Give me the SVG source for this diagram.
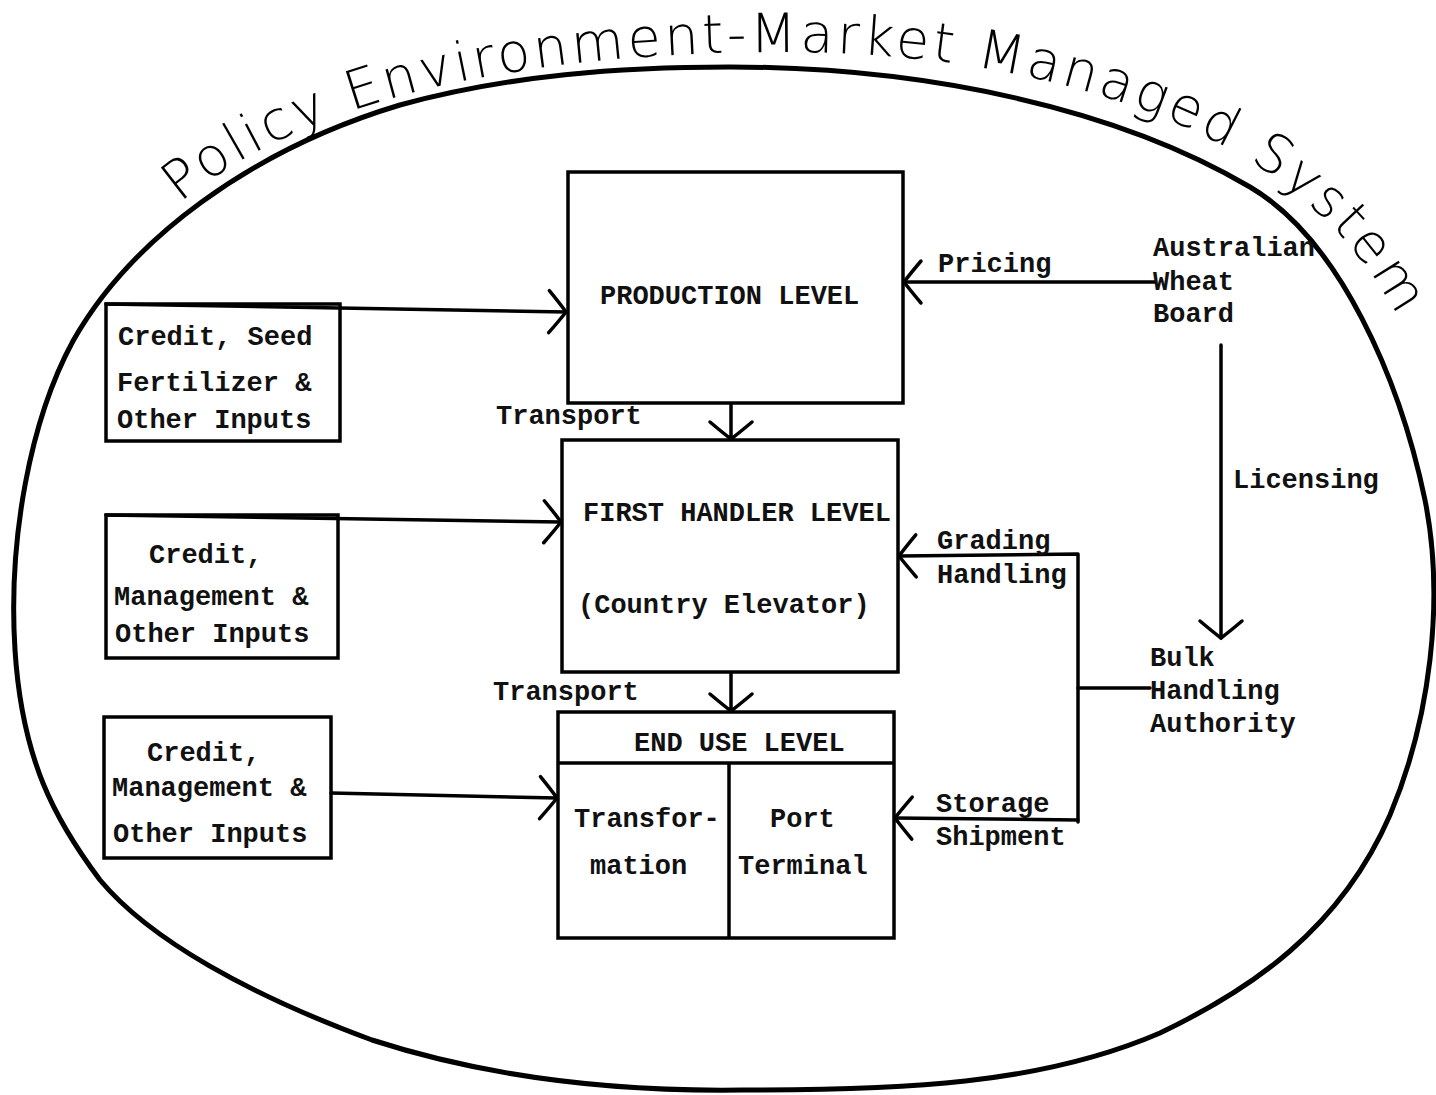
<svg xmlns="http://www.w3.org/2000/svg" width="1436" height="1095" viewBox="0 0 1436 1095">
<style>
.t{font-family:"Liberation Mono","Courier New",monospace;font-size:27px;font-weight:bold;fill:#111}
.box{fill:none;stroke:#000;stroke-width:3.5;stroke-linejoin:miter}
.ln{fill:none;stroke:#000;stroke-width:3.5;stroke-linecap:round;stroke-linejoin:round}
.title{font-family:"DejaVu Sans","Liberation Sans",sans-serif;font-size:54px;font-weight:300;fill:#000}
</style>
<defs>
<marker id="ah" markerUnits="userSpaceOnUse" markerWidth="40" markerHeight="50" viewBox="-25 -25 30 50" refX="0" refY="0" orient="auto">
<path d="M -17,-21 Q -6,-8 0,0 Q -6,8 -17,21" fill="none" stroke="#000" stroke-width="3.5" stroke-linecap="round"/>
</marker>
<path id="arcpath" d="M 180,203 C 305,98 520,54 770,52 C 970,50 1140,92 1255,164 C 1325,210 1375,265 1412,345"/>
</defs>
<rect width="1436" height="1095" fill="#fff"/>

<g id="environment">
<path d="M 730,67 C 930,67 1120,110 1250,187 C 1340,240 1400,380 1425,500 C 1445,600 1430,720 1390,815 C 1340,930 1250,990 1160,1033 C 1040,1085 900,1090 743,1090 C 600,1092 480,1075 372,1040 C 250,995 150,940 100,880 C 55,820 22,760 15,650 C 8,540 30,420 73,341 C 130,240 250,150 400,105 C 510,75 620,67 730,67 Z" fill="none" stroke="#000" stroke-width="5"/>
<text class="title"><textPath href="#arcpath" textLength="1335" lengthAdjust="spacing">Policy Environment-Market Managed System</textPath></text>
</g>

<g id="connectors">
<line class="ln" x1="106" y1="304" x2="566" y2="312" marker-end="url(#ah)"/>
<line class="ln" x1="106" y1="515" x2="561" y2="522" marker-end="url(#ah)"/>
<line class="ln" x1="331" y1="793" x2="557" y2="798" marker-end="url(#ah)"/>
<line class="ln" x1="731" y1="404" x2="731" y2="439" marker-end="url(#ah)"/>
<line class="ln" x1="731" y1="673" x2="731" y2="711" marker-end="url(#ah)"/>
<line class="ln" x1="1155" y1="282" x2="904" y2="282" marker-end="url(#ah)"/>
<line class="ln" x1="1221" y1="345" x2="1221" y2="638" marker-end="url(#ah)"/>
<polyline class="ln" points="1150,688 1078,688"/>
<polyline class="ln" points="1078,822 1078,554 899,556" marker-end="url(#ah)"/>
<polyline class="ln" points="1078,820 895,818" marker-end="url(#ah)"/>
</g>

<g id="inputs1">
<rect class="box" x="106" y="304" width="234" height="137"/>
<text class="t" x="118" y="345">Credit, Seed</text>
<text class="t" x="117" y="391">Fertilizer &amp;</text>
<text class="t" x="117" y="428">Other Inputs</text>
</g>
<g id="inputs2">
<rect class="box" x="106" y="515" width="232" height="143"/>
<text class="t" x="149" y="563">Credit,</text>
<text class="t" x="114" y="605">Management &amp;</text>
<text class="t" x="115" y="642">Other Inputs</text>
</g>
<g id="inputs3">
<rect class="box" x="104" y="717" width="227" height="141"/>
<text class="t" x="147" y="761">Credit,</text>
<text class="t" x="112" y="796">Management &amp;</text>
<text class="t" x="113" y="842">Other Inputs</text>
</g>

<g id="production">
<rect class="box" x="568" y="172" width="335" height="231"/>
<text class="t" x="600" y="304">PRODUCTION LEVEL</text>
</g>
<text class="t" x="496" y="424">Transport</text>

<g id="first-handler">
<rect class="box" x="562" y="440" width="336" height="232"/>
<text class="t" x="583" y="521">FIRST HANDLER LEVEL</text>
<text class="t" x="578" y="613">(Country Elevator)</text>
</g>
<text class="t" x="493" y="700">Transport</text>

<g id="end-use">
<rect class="box" x="558" y="712" width="336" height="226"/>
<line class="box" x1="558" y1="763" x2="894" y2="763"/>
<line class="box" x1="729" y1="763" x2="729" y2="938"/>
<text class="t" x="634" y="751">END USE LEVEL</text>
<text class="t" x="574" y="827">Transfor-</text>
<text class="t" x="590" y="874">mation</text>
<text class="t" x="770" y="827">Port</text>
<text class="t" x="738" y="874">Terminal</text>
</g>

<g id="awb">
<text class="t" x="1153" y="256">Australian</text>
<text class="t" x="1153" y="290">Wheat</text>
<text class="t" x="1153" y="322">Board</text>
</g>
<g id="bha">
<text class="t" x="1150" y="666">Bulk</text>
<text class="t" x="1150" y="699">Handling</text>
<text class="t" x="1150" y="732">Authority</text>
</g>

<g id="labels">
<text class="t" x="938" y="272">Pricing</text>
<text class="t" x="1233" y="488">Licensing</text>
<text class="t" x="937" y="549">Grading</text>
<text class="t" x="937" y="583">Handling</text>
<text class="t" x="936" y="812">Storage</text>
<text class="t" x="936" y="845">Shipment</text>
</g>
</svg>
